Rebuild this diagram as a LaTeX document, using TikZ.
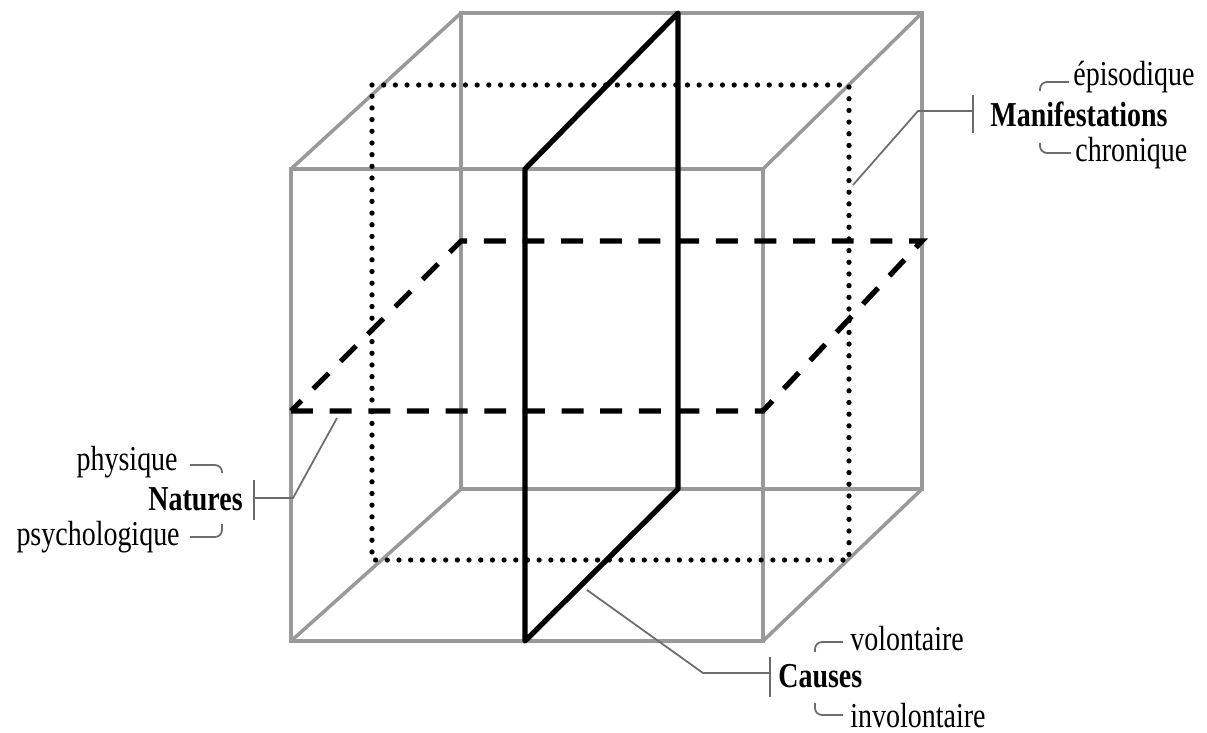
\documentclass[tikz,border=0pt]{standalone}
\usepackage{fontspec}
\setmainfont[FakeStretch=0.8]{Liberation Serif}
\usepackage{tikz}
\usetikzlibrary{positioning}

\begin{document}
\begin{tikzpicture}[
		x=0.02cm, y=-0.02cm,
		font=\fontsize{19.9}{24}\selectfont,
		edge/.style={draw=gray!80, line width=2pt},
		midplane/.style={line width=3pt, line cap=round, dash pattern=on 0pt off 6.65pt},
		flatplane/.style={line width=3pt, dash pattern=on 12.5pt off 9.5pt},
		cutplane/.style={line width=3pt, line join=round},
		leader/.style={draw=gray!85!black, line width=1pt},
		hook/.style={leader, rounded corners=4pt},
		axis/.style={font=\bfseries\fontsize{19.9}{24}\selectfont, inner sep=0pt, anchor=base west},
		pole/.style={inner sep=0pt, anchor=base west}
		]
		\useasboundingbox (0,0) rectangle (1207,733);
		
		% Cube corners
		\coordinate (ftl) at (291,169);
		\coordinate (ftr) at (763,169);
		\coordinate (fbr) at (763,641);
		\coordinate (fbl) at (291,641);
		\coordinate (btl) at (461,13);
		\coordinate (btr) at (922,13);
		\coordinate (bbr) at (922,489);
		\coordinate (bbl) at (461,489);
		
		% Cube edges
		\draw[edge] (ftl) -- (ftr) -- (fbr) -- (fbl) -- cycle;
		\draw[edge] (btl) -- (btr) -- (bbr) -- (bbl) -- cycle;
		\foreach \c in {tl,tr,br,bl}
		\draw[edge] (f\c) -- (b\c);
		
		% Middle planes
		\draw[midplane] (372,85) -- (849,85) -- (849,560) -- (372,560) -- cycle;
		\draw[flatplane] (291,411) -- (763,411) -- (922,241) -- (461,241) -- cycle;
		\draw[cutplane] (525,169) -- (678,13) -- (678,489) -- (525,641) -- cycle;
		
		% Labels
		\node[axis] (manif) at (990,127) {Manifestations};
		\node[pole] (episo) at (1073,86) {épisodique};
		\node[pole] (chron) at (1075,162) {chronique};
		
		\node[axis, anchor=base east] (natures) at (243,510) {Natures};
		\node[pole, anchor=base east] (physique) at (178,470) {physique};
		\node[pole, anchor=base east] (psycho) at (180,545) {psychologique};
		
		\node[axis] (causes) at (778,687) {Causes};
		\node[pole] (volont) at (850,650) {volontaire};
		\node[pole] (involont) at (850,727) {involontaire};
		
		% Leader feet and bars
		\coordinate (mfoot) at (853,185);
		\coordinate (nfoot) at (337,418);
		\coordinate (cfoot) at (587,590);
		\coordinate (manif-bar) at ([shift={(-17,-16)}]manif.base west);
		\coordinate (natures-bar) at ([shift={(11,-12)}]natures.base east);
		\coordinate (causes-bar) at ([shift={(-8,-14)}]causes.base west);
		
		\draw[leader] (mfoot) -- (918,111) -- (manif-bar);
		\draw[leader] ([shift={(-17,-32)}]manif.base west) -- ([shift={(-17,6)}]manif.base west);
		\draw[leader] (nfoot) -- (293,498) -- (natures-bar);
		\draw[leader] ([shift={(11,-30)}]natures.base east) -- ([shift={(11,10)}]natures.base east);
		\draw[leader] (cfoot) -- (703,673) -- (causes-bar);
		\draw[leader] ([shift={(-8,-30)}]causes.base west) -- ([shift={(-8,10)}]causes.base west);
		
		% Small hooks to the poles
		\draw[hook] ([shift={(-33,5)}]episo.base west) |- ([shift={(-4,-4)}]episo.base west);
		\draw[hook] ([shift={(-35,-19)}]chron.base west) |- ([shift={(-4,-9)}]chron.base west);
		\draw[hook] ([shift={(12,-5)}]physique.base east) -| ([shift={(44,3)}]physique.base east);
		\draw[hook] ([shift={(10,-8)}]psycho.base east) -| ([shift={(42,-21)}]psycho.base east);
		\draw[hook] ([shift={(-35,2)}]volont.base west) |- ([shift={(-7,-8)}]volont.base west);
		\draw[hook] ([shift={(-35,-24)}]involont.base west) |- ([shift={(-7,-12)}]involont.base west);
	\end{tikzpicture}
\end{document}
